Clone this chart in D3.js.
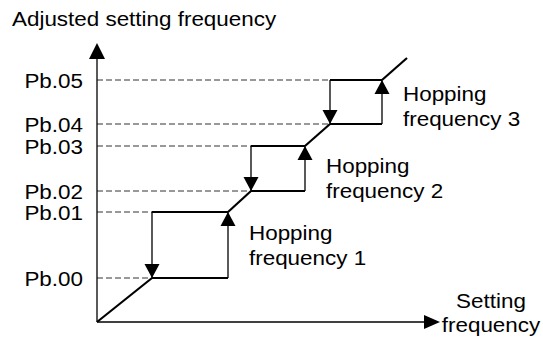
<!DOCTYPE html>
<html>
<head>
<meta charset="utf-8">
<script src="https://cdn.jsdelivr.net/npm/d3@7"></script>
<style>
  body { margin: 0; background: #fff; }
  text { font-family: Arial, "Liberation Sans", sans-serif; fill: #000; }
</style>
</head>
<body>
<div id="chart"></div>
<script>
// level names and their adjusted frequency values (schematic units)
const levelNames = ["Pb.00", "Pb.01", "Pb.02", "Pb.03", "Pb.04", "Pb.05"];
const levelValues = [44, 110, 131, 176, 198, 242];

// setting frequency where each hop band starts / ends
const hopStart = [55, 154, 233];
const hopEnd = [131, 208, 285];
const hopNames = ["Hopping frequency 1", "Hopping frequency 2", "Hopping frequency 3"];

// end of the rising line past the last band
const lineEnd = [310, 264];

const xMax = 343, yMax = 279;

// set the dimensions of the graph
const width = 543, height = 338;
const origin = { x: 97, y: 322 };

const svg = d3.select("#chart")
    .append("svg")
    .attr("width", width)
    .attr("height", height);

const x = d3.scaleLinear().domain([0, xMax]).range([origin.x, origin.x + xMax]);
const y = d3.scaleLinear().domain([0, yMax]).range([origin.y, origin.y - yMax]);

const sx = 1.15; // the source text is a bit wide
const fs = 19.5;

function label(px, py, txt, anchor) {
    svg.append("text")
        .attr("transform", `translate(${px},${py}) scale(${sx},1)`)
        .attr("text-anchor", anchor || "start")
        .attr("font-size", fs + "px")
        .text(txt);
}

function tri(px, py, dir, w, h) {
    // dir: "up", "down", "right"; (px,py) is the tip
    let pts;
    if (dir === "up") pts = [[px, py], [px - w / 2, py + h], [px + w / 2, py + h]];
    else if (dir === "down") pts = [[px, py], [px - w / 2, py - h], [px + w / 2, py - h]];
    else pts = [[px, py], [px - h, py - w / 2], [px - h, py + w / 2]];
    svg.append("path")
        .attr("d", d3.line()(pts) + "Z")
        .attr("fill", "#000");
}

// dashed guide lines from the axis to each level
const dashEnd = [hopStart[0], hopStart[0], hopStart[1], hopStart[1], hopStart[2], hopStart[2]];
svg.selectAll("line.guide")
    .data(levelValues)
    .join("line")
    .attr("class", "guide")
    .attr("x1", x(0))
    .attr("x2", (d, i) => x(dashEnd[i]))
    .attr("y1", d => y(d))
    .attr("y2", d => y(d))
    .attr("stroke", "#333")
    .attr("stroke-width", 1)
    .attr("stroke-dasharray", "6,3");

// level labels
levelValues.forEach((v, i) => label(83, y(v) + 8, levelNames[i], "end"));

// rising path through the hop bands
const pathPts = [[0, 0]];
hopStart.forEach((s, i) => {
    pathPts.push([s, levelValues[2 * i]]);
    pathPts.push([hopEnd[i], levelValues[2 * i]]);
    pathPts.push([hopEnd[i], levelValues[2 * i + 1]]);
});
pathPts.push(lineEnd);

// thick parts: diagonals and horizontals
hopStart.forEach((s, i) => {
    const lo = levelValues[2 * i], hi = levelValues[2 * i + 1];
    // lower and upper horizontals
    [lo, hi].forEach(v => {
        svg.append("line")
            .attr("x1", x(s)).attr("x2", x(hopEnd[i]))
            .attr("y1", y(v)).attr("y2", y(v))
            .attr("stroke", "#000").attr("stroke-width", 2.2);
    });
    // verticals
    svg.append("line")
        .attr("x1", x(s)).attr("x2", x(s))
        .attr("y1", y(hi)).attr("y2", y(lo))
        .attr("stroke", "#000").attr("stroke-width", 1.3);
    svg.append("line")
        .attr("x1", x(hopEnd[i])).attr("x2", x(hopEnd[i]))
        .attr("y1", y(hi)).attr("y2", y(lo))
        .attr("stroke", "#000").attr("stroke-width", 1.3);
    tri(x(s), y(lo), "down", 15, 14);
    tri(x(hopEnd[i]), y(hi), "up", 15, 14);

    const words = hopNames[i].split(" ");
    const lx = x(hopEnd[i]) + 21;
    const ly = y(hi) + [28, 27, 21][i];
    label(lx, ly, words[0]);
    label(lx, ly + 25, words.slice(1).join(" "));
});

// diagonals
const diag = [[[0, 0], [hopStart[0], levelValues[0]]]];
for (let i = 0; i < hopStart.length; i++) {
    const next = i + 1 < hopStart.length ? [hopStart[i + 1], levelValues[2 * i + 2]] : lineEnd;
    diag.push([[hopEnd[i], levelValues[2 * i + 1]], next]);
}
const lineGen = d3.line().x(d => x(d[0])).y(d => y(d[1]));
svg.selectAll("path.diag")
    .data(diag)
    .join("path")
    .attr("class", "diag")
    .attr("d", lineGen)
    .attr("fill", "none")
    .attr("stroke", "#000")
    .attr("stroke-width", 2.2);

// axes
svg.append("line")
    .attr("x1", x(0)).attr("x2", x(0))
    .attr("y1", y(0)).attr("y2", y(yMax) + 10)
    .attr("stroke", "#000").attr("stroke-width", 1.3);
tri(x(0), y(yMax), "up", 16, 16);
svg.append("line")
    .attr("x1", x(0)).attr("x2", x(xMax) - 10)
    .attr("y1", y(0)).attr("y2", y(0))
    .attr("stroke", "#000").attr("stroke-width", 1.3);
tri(x(xMax), y(0), "right", 14, 16);

// axis titles
label(12, 26, "Adjusted setting frequency");
label(491, 308, "Setting", "middle");
label(491, 332, "frequency", "middle");
</script>
</body>
</html>
